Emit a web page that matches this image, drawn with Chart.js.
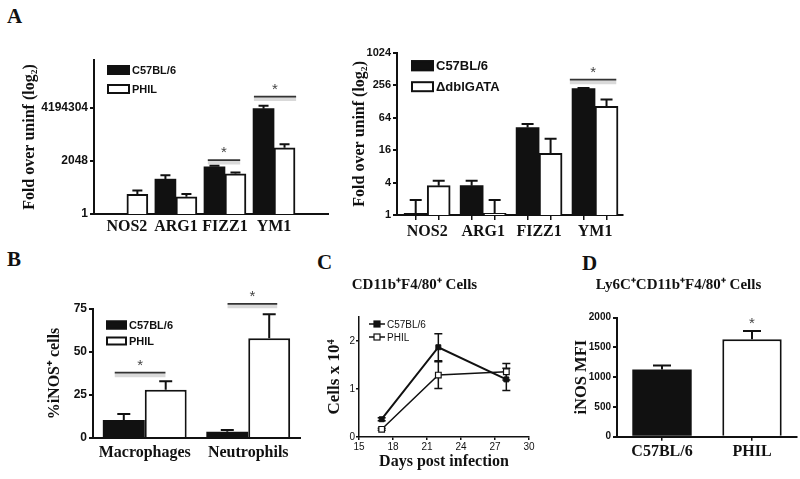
<!DOCTYPE html>
<html>
<head>
<meta charset="utf-8">
<script src="https://cdn.jsdelivr.net/npm/chart.js@4.4.1/dist/chart.umd.min.js"></script>
<style>
  body { margin: 0; width: 800px; height: 479px; overflow: hidden; background: #fff; position: relative; }
  canvas { position: absolute; }
  .lt { position: absolute; font: bold 21px "Liberation Serif"; color: #111; line-height: 1; }
</style>
</head>
<body>
<div class="lt" style="left:7px;top:6px">A</div>
<div class="lt" style="left:7px;top:249px">B</div>
<div class="lt" style="left:317px;top:252px">C</div>
<div class="lt" style="left:582px;top:253px">D</div>

<canvas id="a1" width="340" height="210" style="left:0;top:40px"></canvas>
<canvas id="a2" width="290" height="220" style="left:340px;top:30px"></canvas>
<canvas id="pb" width="310" height="190" style="left:0;top:280px"></canvas>
<canvas id="pc" width="274" height="210" style="left:300px;top:270px"></canvas>
<canvas id="pd" width="284" height="200" style="left:560px;top:270px"></canvas>

<script>
// --- data ---
const genes = ['NOS2', 'ARG1', 'FIZZ1', 'YM1'];

// A left: fold over uninfected (log2 axis), upper end of error bar in *Top
const aLeftB6 = [null, 152, 890, 3900000];
const aLeftB6Top = [null, 270, 1060, 5900000];
const aLeftPhil = [17, 12, 326, 13800];
const aLeftPhilTop = [30, 18, 390, 23000];
const aLeftTicks = [1, 2048, 4194304];

// A right
const aRightB6 = [1.07, 3.5, 42, 222];
const aRightB6Top = [1.9, 4.3, 48.5, 226];
const aRightDbl = [3.5, 1.07, 14, 104];
const aRightDblTop = [4.3, 1.9, 26, 139];
const aRightTicks = [1, 4, 16, 64, 256, 1024];

// B: % iNOS+ cells
const cellTypes = ['Macrophages', 'Neutrophils'];
const bB6 = [10.5, 3.7];
const bB6Top = [14, 4.6];
const bPhil = [28, 58];
const bPhilTop = [33, 72];
const bTicks = [0, 25, 50, 75];

// C: CD11b+F4/80+ cells x 10^4
const days = [17, 22, 28];
const cB6 = [0.37, 1.87, 1.2];
const cB6Sd = [0.03, 0.28, 0.23];
const cPhil = [0.16, 1.29, 1.36];
const cPhilSd = [0.02, 0.28, 0.17];
const cDayTicks = [15, 18, 21, 24, 27, 30];
const cYTicks = [0, 1, 2];

// D: iNOS MFI
const strains = ['C57BL/6', 'PHIL'];
const dMfi = [1130, 1636];
const dMfiTop = [1195, 1775];
const dTicks = [0, 500, 1000, 1500, 2000];

// significance marks [x from, x to, y]
const sigA1 = [[1.65, 2.31, 2 ** 11.2], [2.59, 3.45, 2 ** 24.4]];
const sigA2 = [[2.55, 3.38, 2 ** 8.34]];
const sigB = [[-0.29, 0.2, 38], [0.8, 1.28, 78]];
const sigD = [[1, 1, 1955]];

const INK = '#111';
const SANS = 'Liberation Sans';
const SERIF = 'Liberation Serif';

// error bars (only up for bars, both ways for the line panel)
const errorBars = {
  id: 'errorBars',
  beforeDatasetsDraw(chart, args, opts) {
    const ctx = chart.ctx, ys = chart.scales.y;
    chart.data.datasets.forEach((ds, di) => {
      if (!ds.errTop && !ds.sd) return;
      const meta = chart.getDatasetMeta(di);
      meta.data.forEach((el, i) => {
        let v = ds.data[i];
        if (v && typeof v === 'object') v = v.y;
        if (v == null) return;
        const ends = [];
        if (ds.errTop) ends.push(ds.errTop[i]);
        if (ds.sd) ends.push(v + ds.sd[i], v - ds.sd[i]);
        ctx.save();
        ctx.strokeStyle = INK;
        ctx.lineWidth = opts.width || 2;
        const w = (opts.cap || 10) / 2;
        ends.forEach(t => {
          if (t == null) return;
          const py = ys.getPixelForValue(t);
          ctx.beginPath();
          ctx.moveTo(el.x, el.y);
          ctx.lineTo(el.x, py);
          ctx.moveTo(el.x - w, py);
          ctx.lineTo(el.x + w, py);
          ctx.stroke();
        });
        ctx.restore();
      });
    });
  }
};

// significance lines and stars
const sigMarks = {
  id: 'sigMarks',
  afterDatasetsDraw(chart, args, opts) {
    if (!opts.marks) return;
    const ctx = chart.ctx, xs = chart.scales.x, ys = chart.scales.y;
    opts.marks.forEach(m => {
      const x0 = xs.getPixelForValue(m[0]), x1 = xs.getPixelForValue(m[1]);
      const y = ys.getPixelForValue(m[2]);
      ctx.save();
      if (x1 > x0) {
        ctx.strokeStyle = 'rgba(0,0,0,0.15)';
        ctx.lineWidth = 4;
        ctx.beginPath(); ctx.moveTo(x0, y + 2.5); ctx.lineTo(x1, y + 2.5); ctx.stroke();
        ctx.strokeStyle = '#333';
        ctx.lineWidth = 1.6;
        ctx.beginPath(); ctx.moveTo(x0, y); ctx.lineTo(x1, y); ctx.stroke();
      }
      ctx.fillStyle = '#444';
      ctx.font = '15px "' + SANS + '"';
      ctx.textAlign = 'center';
      ctx.textBaseline = 'alphabetic';
      ctx.fillText('*', (x0 + x1) / 2, x1 > x0 ? y - 3 : y + 8);
      ctx.restore();
    });
  }
};

// legend drawn inside the plot area
const boxLegend = {
  id: 'boxLegend',
  afterDraw(chart, args, o) {
    if (o.x == null) return;
    const ctx = chart.ctx, a = chart.chartArea;
    chart.data.datasets.forEach((ds, i) => {
      const x = a.left + o.x, y = a.top + o.y + i * o.gap;
      ctx.save();
      if (o.line) {
        ctx.strokeStyle = INK; ctx.lineWidth = 1.5;
        ctx.beginPath(); ctx.moveTo(x, y); ctx.lineTo(x + o.w, y); ctx.stroke();
        const s = 6;
        ctx.fillStyle = ds.pointBackgroundColor;
        ctx.fillRect(x + o.w / 2 - s / 2, y - s / 2, s, s);
        ctx.lineWidth = 1.2;
        ctx.strokeRect(x + o.w / 2 - s / 2, y - s / 2, s, s);
      } else {
        ctx.fillStyle = ds.backgroundColor;
        ctx.fillRect(x, y - o.h / 2, o.w, o.h);
        ctx.strokeStyle = INK; ctx.lineWidth = 2;
        ctx.strokeRect(x + 1, y - o.h / 2 + 1, o.w - 2, o.h - 2);
      }
      ctx.fillStyle = INK;
      ctx.font = o.font;
      ctx.textAlign = 'left';
      ctx.textBaseline = 'middle';
      ctx.fillText(ds.label, x + o.w + 2, y + 1);
      ctx.restore();
    });
  }
};

Chart.register(errorBars, sigMarks, boxLegend);
Chart.defaults.animation = false;
Chart.defaults.responsive = false;
Chart.defaults.plugins.legend.display = false;
Chart.defaults.plugins.tooltip.enabled = false;
Chart.defaults.color = INK;

function yAxis(width, ticks, size, titleText, titleSize, titlePad, extra) {
  return Object.assign({
    afterFit: s => { s.width = width; },
    afterBuildTicks: s => { s.ticks = ticks.map(v => ({ value: v })); },
    ticks: { font: { family: SANS, weight: 'bold', size: size }, color: INK, padding: 2, callback: v => String(v) },
    grid: { drawOnChartArea: false, tickLength: 4, color: INK, lineWidth: 2 },
    border: { color: INK, width: 2 },
    title: { display: true, text: titleText, color: INK, font: { family: SERIF, weight: 'bold', size: titleSize }, padding: { top: titlePad, bottom: 0 } }
  }, extra);
}

function serifTicks(size) {
  return { family: SERIF, weight: 'bold', size: size };
}

// ---- A left ----
new Chart('a1', {
  type: 'bar',
  data: {
    datasets: [
      { label: 'C57BL/6', data: aLeftB6.map((v, i) => ({ x: i, y: v })), errTop: aLeftB6Top, backgroundColor: INK, borderWidth: 0 },
      { label: 'PHIL', data: aLeftPhil.map((v, i) => ({ x: i, y: v })), errTop: aLeftPhilTop, backgroundColor: '#fff', borderColor: INK, borderWidth: 2 }
    ]
  },
  options: {
    layout: { padding: { top: 20, right: 12 } },
    datasets: { bar: { barThickness: 21 } },
    plugins: {
      errorBars: { cap: 10 },
      sigMarks: { marks: sigA1 },
      boxLegend: { x: 13, y: 10, gap: 19, w: 23, h: 10, font: 'bold 11px "' + SANS + '"' }
    },
    scales: {
      x: {
        type: 'linear', min: -0.67, max: 4.1, offset: false,
        afterFit: s => { s.height = 36; },
        afterBuildTicks: s => { s.ticks = genes.map((g, i) => ({ value: i })); },
        ticks: { callback: (v, i) => genes[i], font: serifTicks(16), color: INK, padding: 3, maxRotation: 0, autoSkip: false },
        grid: { drawOnChartArea: false, drawTicks: false, offset: false },
        border: { color: INK, width: 2 }
      },
      y: yAxis(94, aLeftTicks, 12, 'Fold over uninf (log\u2082)', 16, 20.4, { type: 'logarithmic', min: 1, max: 2 ** 32 })
    }
  }
});

// ---- A right ----
new Chart('a2', {
  type: 'bar',
  data: {
    datasets: [
      { label: 'C57BL/6', data: aRightB6.map((v, i) => ({ x: i, y: v })), errTop: aRightB6Top, backgroundColor: INK, borderWidth: 0 },
      { label: '\u0394dblGATA', data: aRightDbl.map((v, i) => ({ x: i, y: v })), errTop: aRightDblTop, backgroundColor: '#fff', borderColor: INK, borderWidth: 2 }
    ]
  },
  options: {
    layout: { padding: { top: 22.7, right: 7 } },
    datasets: { bar: { barThickness: 23 } },
    plugins: {
      errorBars: { cap: 12 },
      sigMarks: { marks: sigA2 },
      boxLegend: { x: 14, y: 13, gap: 21, w: 23, h: 11, font: 'bold 13px "' + SANS + '"' }
    },
    scales: {
      x: {
        type: 'linear', min: -0.54, max: 3.5, offset: false,
        afterFit: s => { s.height = 35; },
        afterBuildTicks: s => {
          const t = [];
          genes.forEach((g, i) => { t.push({ value: i - 0.205 }, { value: i + 0.205 }); });
          s.ticks = t;
        },
        ticks: { callback: (v, i) => (i % 2 === 0 ? genes[i / 2] : ''), labelOffset: 11.5, font: serifTicks(16), color: INK, padding: 2, maxRotation: 0, autoSkip: false },
        grid: { drawOnChartArea: false, tickLength: 5, color: INK, lineWidth: 1.5, offset: false },
        border: { color: INK, width: 2 }
      },
      y: yAxis(57, aRightTicks, 11, 'Fold over uninf (log\u2082)', 16, 10.4, { type: 'logarithmic', min: 1, max: 1024 })
    }
  }
});

// ---- B ----
new Chart('pb', {
  type: 'bar',
  data: {
    labels: cellTypes,
    datasets: [
      { label: 'C57BL/6', data: bB6, errTop: bB6Top, backgroundColor: INK, borderWidth: 0 },
      { label: 'PHIL', data: bPhil, errTop: bPhilTop, backgroundColor: '#fff', borderColor: INK, borderWidth: 2 }
    ]
  },
  options: {
    layout: { padding: { top: 29, right: 10 } },
    datasets: { bar: { categoryPercentage: 0.81, barPercentage: 1 } },
    plugins: {
      errorBars: { cap: 13 },
      sigMarks: { marks: sigB },
      boxLegend: { x: 13, y: 16, gap: 16, w: 21, h: 9, font: 'bold 11px "' + SANS + '"' }
    },
    scales: {
      x: {
        afterFit: s => { s.height = 32; },
        ticks: { font: serifTicks(16), color: INK, padding: 5, maxRotation: 0, autoSkip: false },
        grid: { drawOnChartArea: false, drawTicks: false },
        border: { color: INK, width: 2 }
      },
      y: yAxis(93, bTicks, 12, '%iNOS\u207A cells', 16, 45.4, { min: 0, max: 75 })
    }
  }
});

// ---- C ----
new Chart('pc', {
  type: 'line',
  data: {
    datasets: [
      { label: 'C57BL/6', data: days.map((d, i) => ({ x: d, y: cB6[i] })), sd: cB6Sd, borderColor: INK, borderWidth: 2, pointStyle: 'rect', pointRadius: 3.5, pointBackgroundColor: INK, pointBorderColor: INK, pointBorderWidth: 1 },
      { label: 'PHIL', data: days.map((d, i) => ({ x: d, y: cPhil[i] })), sd: cPhilSd, borderColor: INK, borderWidth: 1.5, pointStyle: 'rect', pointRadius: 4, pointBackgroundColor: '#fff', pointBorderColor: INK, pointBorderWidth: 1.2 }
    ]
  },
  options: {
    layout: { padding: { right: 45 } },
    plugins: {
      title: { display: true, text: 'CD11b\u207AF4/80\u207A Cells', color: INK, font: { family: SERIF, weight: 'bold', size: 15 }, padding: { top: 6, bottom: 23 } },
      errorBars: { cap: 8, width: 1.5 },
      boxLegend: { x: 10, y: 7, gap: 13, w: 16, h: 6, line: true, font: '10px "' + SANS + '"' }
    },
    scales: {
      x: {
        type: 'linear', min: 15, max: 30,
        afterFit: s => { s.height = 43; },
        afterBuildTicks: s => { s.ticks = cDayTicks.map(v => ({ value: v })); },
        ticks: { font: { family: SANS, size: 10 }, color: INK, padding: 1, maxRotation: 0 },
        grid: { drawOnChartArea: false, tickLength: 3, color: INK, lineWidth: 1.5 },
        border: { color: INK, width: 1.5 },
        title: { display: true, text: 'Days post infection', color: INK, font: { family: SERIF, weight: 'bold', size: 16 }, padding: { top: 0, bottom: 8.4 } }
      },
      y: yAxis(59, cYTicks, 10, 'Cells x 10\u2074', 17, 24.8, { type: 'linear', min: 0, max: 2.5,
        ticks: { font: { family: SANS, size: 10 }, color: INK, padding: 1 },
        grid: { drawOnChartArea: false, tickLength: 3, color: INK, lineWidth: 1.5 },
        border: { color: INK, width: 1.5 } })
    }
  }
});

// ---- D ----
new Chart('pd', {
  type: 'bar',
  data: {
    labels: strains,
    datasets: [
      { label: 'iNOS MFI', data: dMfi, errTop: dMfiTop, backgroundColor: [INK, '#fff'], borderColor: INK, borderWidth: [0, 2] }
    ]
  },
  options: {
    layout: { padding: { right: 47 } },
    datasets: { bar: { categoryPercentage: 0.66, barPercentage: 1 } },
    plugins: {
      title: { display: true, text: 'Ly6C\u207ACD11b\u207AF4/80\u207A Cells', color: INK, font: { family: SERIF, weight: 'bold', size: 15 }, padding: { top: 6, bottom: 23.7 } },
      errorBars: { cap: 18 },
      sigMarks: { marks: sigD }
    },
    scales: {
      x: {
        afterFit: s => { s.height = 33.3; },
        ticks: { font: serifTicks(16), color: INK, padding: 2, maxRotation: 0, autoSkip: false },
        grid: { drawOnChartArea: false, tickLength: 4, color: INK, lineWidth: 1.5, offset: false },
        border: { color: INK, width: 2 }
      },
      y: yAxis(57, dTicks, 10, 'iNOS MFI', 16.5, 12.2, { min: 0, max: 2000 })
    }
  }
});
</script>
</body>
</html>
